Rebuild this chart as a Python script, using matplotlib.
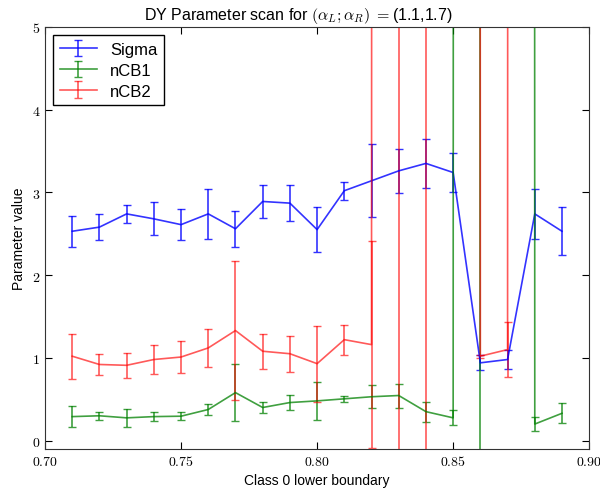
import matplotlib
matplotlib.use("Agg")
import matplotlib.pyplot as plt
from matplotlib.ticker import FuncFormatter

plt.rcParams['font.family'] = ['Liberation Sans', 'DejaVu Sans']
plt.rcParams['mathtext.fontset'] = 'cm'

# lower boundary of class 0
bounds = [0.71, 0.72, 0.73, 0.74, 0.75, 0.76, 0.77, 0.78, 0.79, 0.80,
          0.81, 0.82, 0.83, 0.84, 0.85, 0.86, 0.87, 0.88, 0.89]

sigma = [2.53, 2.58, 2.74, 2.68, 2.61, 2.74, 2.56, 2.89, 2.87, 2.55,
         3.02, 3.14, 3.26, 3.35, 3.24, 0.94, 0.98, 2.74, 2.53]
sigma_err = [0.19, 0.16, 0.11, 0.20, 0.19, 0.30, 0.22, 0.20, 0.22, 0.27,
             0.11, 0.44, 0.27, 0.30, 0.24, 0.09, 0.11, 0.30, 0.29]

# fits that blew up (off the chart) are kept as large values
ncb1 = [0.29, 0.30, 0.275, 0.29, 0.295, 0.376, 0.58, 0.40, 0.46, 0.48,
        0.505, 0.53, 0.545, 0.35, 0.275, 1000, 1000, 0.20, 0.33]
ncb1_err = [0.13, 0.05, 0.11, 0.055, 0.045, 0.065, 0.34, 0.07, 0.09, 0.225,
            0.04, 0.14, 0.145, 0.12, 0.09, 10000, 100, 0.085, 0.12]

ncb2 = [1.02, 0.92, 0.91, 0.98, 1.01, 1.12, 1.33, 1.08, 1.05, 0.93,
        1.22, 1.16, 1000, 1000, 1000, 1.02, 1.10, 1000, 1000]
ncb2_err = [0.27, 0.13, 0.15, 0.17, 0.19, 0.23, 0.84, 0.21, 0.22, 0.46,
            0.18, 1.25, 10000, 10000, 100, 0.02, 0.33, 100, 100]

fig = plt.figure(figsize=(6.0, 4.89), dpi=100)
ax = fig.add_axes([0.075, 0.080, 0.907, 0.863])

ax.errorbar(bounds, sigma, yerr=sigma_err, color='b', lw=1.2, capsize=3,
            alpha=0.8, label='Sigma')
ax.errorbar(bounds, ncb1, yerr=ncb1_err, color='g', lw=1.2, capsize=3,
            alpha=0.75, label='nCB1')
ax.errorbar(bounds, ncb2, yerr=ncb2_err, color='r', lw=1.2, capsize=3,
            alpha=0.65, label='nCB2')

ax.set_xlim(0.70, 0.90)
ax.set_ylim(-0.1, 5)
ax.set_xticks([0.70, 0.75, 0.80, 0.85, 0.90])
ax.set_yticks([0, 1, 2, 3, 4, 5])
ax.xaxis.set_major_formatter(FuncFormatter(lambda v, p: r'$%.2f$' % v))
ax.yaxis.set_major_formatter(FuncFormatter(lambda v, p: r'$%d$' % round(v)))
ax.tick_params(direction='in', top=True, right=True, length=5, labelsize=10)
for s in ax.spines.values():
    s.set_color('#333333')

ax.set_title(r'DY Parameter scan for $(\alpha_L;\alpha_R)\ =$(1.1,1.7)',
             fontsize=11.5, x=0.465)
ax.set_xlabel('Class 0 lower boundary', fontsize=10)
ax.set_ylabel('Parameter value', fontsize=10)

leg = ax.legend(loc='upper left', fontsize=12, fancybox=False, framealpha=1,
                edgecolor='black', handlelength=2.2, borderaxespad=0.5,
                labelspacing=0.35)
leg.get_frame().set_linewidth(1.0)

fig.savefig('out.png', dpi=100)
